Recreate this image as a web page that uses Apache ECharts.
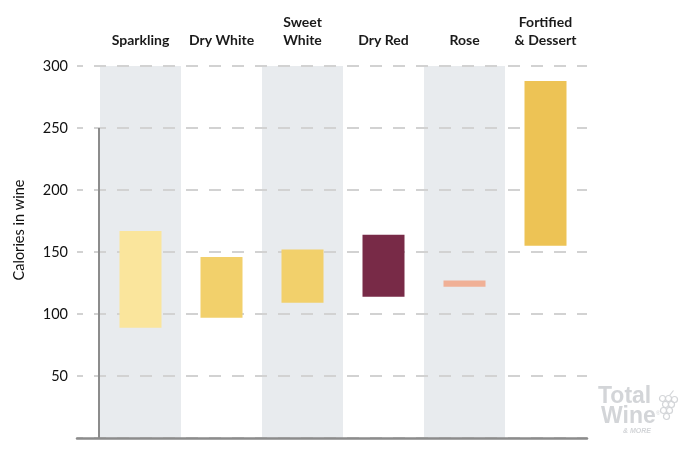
<!DOCTYPE html>
<html>
<head>
<meta charset="utf-8">
<script src="https://cdn.jsdelivr.net/npm/echarts@6/dist/echarts.min.js"></script>
<style>
  html, body { margin: 0; padding: 0; background: #fff; }
  #chart { width: 688px; height: 460px; }
</style>
</head>
<body>
<div id="chart"></div>
<script>
// wine types and calorie ranges per glass
const categories = ['Sparkling', 'Dry White', 'Sweet\nWhite', 'Dry Red', 'Rose', 'Fortified\n& Dessert']
const lowValues = [89, 97, 109, 114, 122, 155]
const highValues = [167, 146, 152, 164, 127, 288]
const barColors = ['#FAE59C', '#F2D06B', '#F2D06B', '#782A47', '#F0B096', '#EDC355']
const yTicks = [0, 50, 100, 150, 200, 250, 300]

const font = 'Lato, "Noto Sans", sans-serif'
const chart = echarts.init(document.getElementById('chart'))

chart.setOption({
  animation: false,
  textStyle: { fontFamily: font },
  grid: [
    { left: 77, right: 101, top: 66, bottom: 22 },
    { left: 100, right: 102, top: 66, bottom: 22 }
  ],
  xAxis: [
    {
      gridIndex: 0, type: 'value', min: 0, max: 1,
      axisLabel: { show: false }, axisTick: { show: false }, splitLine: { show: false },
      axisLine: { show: true, lineStyle: { color: '#8c8c8c', width: 2.5 } },
      z: 3
    },
    {
      gridIndex: 1, type: 'category', data: categories, position: 'top',
      axisLine: { show: false }, axisTick: { show: false, interval: 0 },
      axisLabel: {
        interval: 0, margin: 17, fontSize: 14, fontWeight: 'bold', color: '#1a1a1a',
        lineHeight: 18, fontFamily: font
      },
      splitArea: { show: true, interval: 0, areaStyle: { color: ['#E8EBEE', 'rgba(255,255,255,0)'] } },
      z: 0
    }
  ],
  yAxis: [
    {
      gridIndex: 0, type: 'value', min: yTicks[0], max: yTicks[yTicks.length - 1], interval: 50,
      name: 'Calories in wine', nameLocation: 'middle', nameGap: 50,
      nameTextStyle: { fontSize: 14.5, color: '#111', fontFamily: font, padding: [0, 0, 0, 44] },
      axisLine: { show: false }, axisTick: { show: false },
      axisLabel: {
        fontSize: 14.5, color: '#111', margin: 9, fontFamily: font,
        formatter: (v) => (v === 0 ? '' : String(v))
      },
      splitLine: {
        show: true,
        lineStyle: { color: '#d2d2d2', width: 2, type: [12, 11], dashOffset: 6 }
      },
      z: 1
    },
    {
      gridIndex: 1, type: 'value', min: 0, max: 300,
      show: false
    }
  ],
  series: [
    {
      name: 'base', type: 'bar', xAxisIndex: 1, yAxisIndex: 1, stack: 'range',
      barWidth: 42, silent: true,
      itemStyle: { color: 'rgba(0,0,0,0)' },
      data: lowValues
    },
    {
      name: 'calories', type: 'bar', xAxisIndex: 1, yAxisIndex: 1, stack: 'range',
      barWidth: 42, z: 2,
      data: highValues.map((h, i) => ({
        value: h - lowValues[i],
        itemStyle: { color: barColors[i] }
      }))
    }
  ]
})

// short vertical rule on the left edge of the bands, from 0 up to 250
const c0 = chart.convertToPixel({ xAxisIndex: 1 }, 0)
const c1 = chart.convertToPixel({ xAxisIndex: 1 }, 1)
const x0 = c0 - (c1 - c0) / 2 - 1
const yBottom = chart.convertToPixel({ yAxisIndex: 1 }, 0)
const yTop = chart.convertToPixel({ yAxisIndex: 1 }, 250)

const logoGray = '#d3d5d8'
const grape = (cx, cy) => ({
  type: 'circle', shape: { cx, cy, r: 3 },
  style: { fill: 'none', stroke: logoGray, lineWidth: 1.2 }
})
chart.setOption({
  graphic: [
    {
      type: 'line', z: 10,
      shape: { x1: x0, y1: yTop, x2: x0, y2: yBottom },
      style: { stroke: '#8c8c8c', lineWidth: 2 }
    },
    {
      type: 'text', left: 598, top: 385,
      style: { text: 'Total', font: 'bold 23px "Liberation Sans", Arial, sans-serif', fill: logoGray }
    },
    {
      type: 'text', left: 601, top: 405,
      style: { text: 'Wine', font: 'bold 23px "Liberation Sans", Arial, sans-serif', fill: logoGray }
    },
    {
      type: 'text', left: 656, top: 410,
      style: { text: '®', font: '6px sans-serif', fill: logoGray }
    },
    {
      type: 'text', left: 623, top: 428,
      style: { text: '& MORE', font: 'italic bold 7px "Liberation Sans", sans-serif', fill: logoGray }
    },
    {
      type: 'group', left: 657, top: 388,
      children: [
        grape(5, 8), grape(11, 8), grape(17, 9), grape(8, 14), grape(14, 14),
        grape(6, 20), grape(12, 20), grape(9, 26),
        { type: 'line', shape: { x1: 12, y1: 5, x2: 16, y2: 0 }, style: { stroke: logoGray, lineWidth: 1.2 } }
      ]
    }
  ]
})
</script>
</body>
</html>
